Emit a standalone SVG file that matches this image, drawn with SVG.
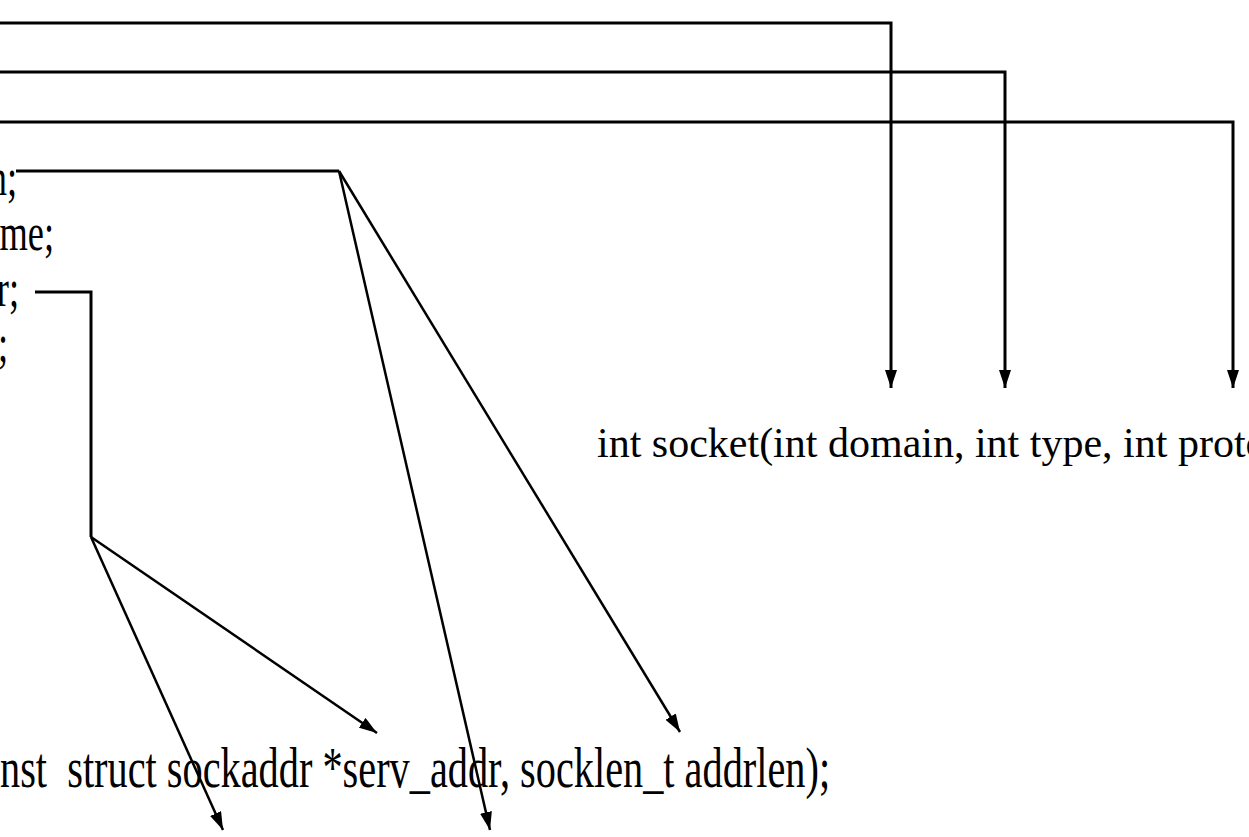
<svg xmlns="http://www.w3.org/2000/svg" width="1249" height="837" viewBox="0 0 1249 837">
  <style>
    .code { font-family: "Liberation Serif", "Times New Roman", serif; fill: #000; white-space: pre; }
    .decl { font-size: 52px; }
    .call { font-size: 56px; }
    .sock { font-size: 42px; }
    .wire { fill: none; stroke: #000; stroke-width: 3; stroke-linejoin: miter; }
    .ray { fill: none; stroke: #000; stroke-width: 2.5; }
  </style>
  <defs>
    <marker id="head" markerUnits="userSpaceOnUse" markerWidth="18" markerHeight="12" refX="18" refY="6" orient="auto">
      <path d="M0,0 L18,6 L0,12 z" fill="#000"/>
    </marker>
  </defs>
  <rect width="1249" height="837" fill="#fff"/>

  <!-- struct member declarations (left column) -->
  <g id="decl-1"><text class="code decl" text-anchor="end" transform="translate(17,195) scale(0.7,1)">n;</text></g>
  <g id="decl-2"><text class="code decl" text-anchor="end" transform="translate(54,250) scale(0.7,1)">me;</text></g>
  <g id="decl-3"><text class="code decl" text-anchor="end" transform="translate(19,306) scale(0.7,1)">r;</text></g>
  <g id="decl-4"><text class="code decl" text-anchor="end" transform="translate(8,361) scale(0.7,1)">;</text></g>

  <!-- socket() prototype -->
  <g id="socket-call"><text class="code sock" x="597" y="457">int socket(int domain, int type, int proto</text></g>

  <!-- bind/connect prototype -->
  <g id="addr-call"><text class="code call" transform="translate(0,787) scale(0.72,1)">nst  struct sockaddr *serv_addr, socklen_t addrlen);</text></g>

  <g id="connectors">
    <!-- socket() arguments -->
    <polyline class="wire" points="0,23 891,23 891,388" marker-end="url(#head)"/>
    <polyline class="wire" points="0,72 1005,72 1005,388" marker-end="url(#head)"/>
    <polyline class="wire" points="0,122 1233,122 1233,388" marker-end="url(#head)"/>
    <!-- first member fans out -->
    <polyline class="wire" points="16,171 339,171"/>
    <line class="ray" x1="339" y1="171" x2="490" y2="830" marker-end="url(#head)"/>
    <line class="ray" x1="339" y1="171" x2="680" y2="732" marker-end="url(#head)"/>
    <!-- third member fans out -->
    <polyline class="wire" points="35,292 91,292 91,537"/>
    <line class="ray" x1="91" y1="537" x2="223" y2="830" marker-end="url(#head)"/>
    <line class="ray" x1="91" y1="537" x2="377" y2="733" marker-end="url(#head)"/>
  </g>
</svg>
